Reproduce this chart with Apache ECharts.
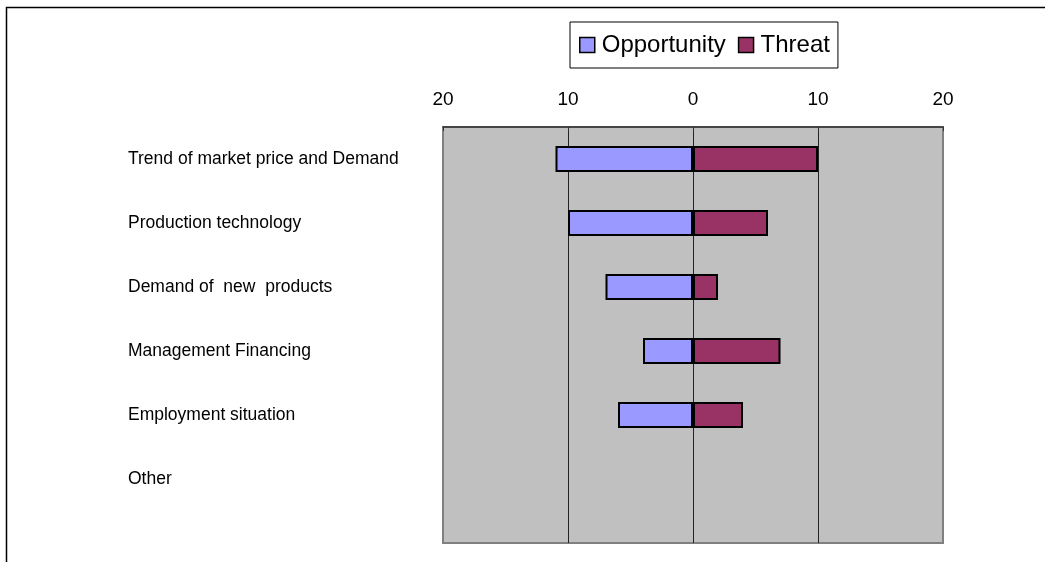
<!DOCTYPE html>
<html>
<head>
<meta charset="utf-8">
<title>Opportunity and Threat</title>
<script src="https://cdn.jsdelivr.net/npm/echarts@6/dist/echarts.min.js"></script>
<style>
  html, body { margin: 0; padding: 0; background: #fff; }
  #chart { width: 1045px; height: 562px; }
</style>
</head>
<body>
<div id="chart"></div>
<script>
// Factors, top to bottom
const categories = [
  'Trend of market price and Demand',
  'Production technology',
  'Demand of  new  products',
  'Management Financing',
  'Employment situation',
  'Other'
];
// Counts per factor (null = no bar)
const opportunity = [11, 10, 7, 4, 6, null];
const threat = [10, 6, 2, 7, 4, null];
// Horizontal axis ticks (shown without sign on both sides)
const xTicks = [-20, -10, 0, 10, 20];

// Rows sit on every other slot of a 14-slot band so the plot keeps
// its half-row of empty space under "Other".
const SLOTS = 14;
const slotLabels = new Array(SLOTS).fill('');
const oppData = new Array(SLOTS).fill('-');
const thrData = new Array(SLOTS).fill('-');
categories.forEach((name, i) => {
  const s = 2 * i + 1;
  slotLabels[s] = name;
  oppData[s] = opportunity[i] == null ? '-' : -opportunity[i];
  thrData[s] = threat[i] == null ? '-' : threat[i];
});

const FONT = 'Liberation Sans, Arial, sans-serif';
const chart = echarts.init(document.getElementById('chart'), null, { renderer: 'canvas' });

chart.setOption({
  animation: false,
  backgroundColor: '#ffffff',
  textStyle: { fontFamily: FONT },
  graphic: [{
    type: 'polyline',
    silent: true,
    shape: { points: [[6.5, 600], [6.5, 7.5], [1100, 7.5]] },
    style: { stroke: '#000', lineWidth: 1.5, fill: null }
  }],
  legend: {
    left: 570,
    top: 22,
    selectedMode: false,
    backgroundColor: '#ffffff',
    borderColor: '#000000',
    borderWidth: 1,
    padding: [11, 8, 11, 9],
    itemGap: 12,
    itemWidth: 15,
    itemHeight: 15,
    icon: 'rect',
    textStyle: { fontSize: 24, color: '#000', padding: [0, 0, 0, 2], fontFamily: FONT },
    itemStyle: { borderColor: '#000', borderWidth: 1.5 },
    data: ['Opportunity', 'Threat']
  },
  grid: {
    left: 443,
    right: 102,
    top: 127,
    bottom: 19,
    show: true,
    backgroundColor: '#c0c0c0',
    borderColor: '#808080',
    borderWidth: 2,
    containLabel: false
  },
  xAxis: {
    type: 'value',
    position: 'top',
    min: xTicks[0],
    max: xTicks[xTicks.length - 1],
    interval: 10,
    axisLine: { show: true, lineStyle: { color: '#333', width: 1.5 } },
    axisTick: { show: true, inside: true, length: 4, lineStyle: { color: '#333' } },
    axisLabel: {
      margin: 18,
      fontSize: 19,
      color: '#000',
      fontFamily: FONT,
      formatter: v => String(Math.abs(v))
    },
    splitLine: { show: true, showMinLine: false, showMaxLine: false, lineStyle: { color: '#222', width: 1 } }
  },
  yAxis: {
    type: 'category',
    inverse: true,
    boundaryGap: false,
    data: slotLabels,
    axisLine: { show: false },
    axisTick: { show: false },
    splitLine: { show: false },
    axisLabel: {
      interval: 0,
      align: 'left',
      margin: 315,
      fontSize: 17.5,
      color: '#000',
      fontFamily: FONT
    }
  },
  series: [
    {
      name: 'Opportunity',
      type: 'bar',
      barWidth: 26,
      barGap: '-100%',
      data: oppData,
      itemStyle: { color: '#9999ff', borderColor: '#000', borderWidth: 2 }
    },
    {
      name: 'Threat',
      type: 'bar',
      barWidth: 26,
      barGap: '-100%',
      data: thrData,
      itemStyle: { color: '#993366', borderColor: '#000', borderWidth: 2 }
    }
  ]
});
</script>
</body>
</html>
